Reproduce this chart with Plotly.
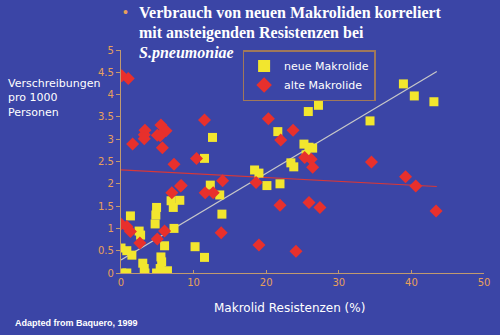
import plotly.graph_objects as go

# neue Makrolide (yellow squares)
neue_x = [0.1, 0.8, 0.0, 0.8, 1.5, 1.3, 2.5, 2.7, 3.0, 3.2, 3.3, 4.8, 4.7, 4.9, 5.5, 5.6,
          4.9, 5.4, 5.9, 6.4, 6.0, 6.9, 7.2, 8.1, 7.3, 10.2, 11.5, 11.5, 12.3, 13.6, 13.9,
          18.4, 19.0, 20.1, 21.9, 23.4, 23.8, 12.6, 21.6, 38.9, 40.4, 43.1, 34.3, 25.8,
          27.2, 25.2, 25.9, 26.4, 25.5]
neue_y = [0.0, 0.0, 0.56, 0.5, 0.4, 1.28, 0.94, 0.85, 0.22, 0.1, 0.0, 1.3, 1.1, 1.47, 0.36, 0.25,
          0.0, 0.1, 0.0, 0.05, 0.61, 1.62, 1.47, 1.63, 1.0, 0.59, 0.35, 2.57, 1.97, 1.75, 1.32,
          2.31, 2.24, 1.96, 2.0, 2.47, 2.38, 3.04, 3.17, 4.24, 3.97, 3.84, 3.41, 3.62,
          3.76, 2.89, 2.82, 2.8, 2.65]

# alte Makrolide (red diamonds)
alte_x = [0.1, 1.0, 1.6, 3.3, 3.2, 3.2, 5.5, 6.2, 5.0, 5.4, 5.7, 7.3, 10.4, 11.5, 8.3, 14.0,
          20.3, 22.0, 23.7, 18.6, 0.0, 0.8, 1.3, 2.6, 5.0, 6.0, 7.0, 8.2, 11.6, 12.7, 13.8,
          21.9, 19.0, 24.1, 25.9, 27.4, 34.5, 39.2, 40.6, 43.4, 25.3, 26.2, 26.4]
alte_y = [4.42, 4.36, 2.89, 3.2, 3.1, 3.01, 3.32, 3.19, 3.09, 3.08, 2.81, 2.44, 2.57, 3.43, 1.96, 2.07,
          3.46, 2.98, 3.2, 2.03, 1.1, 1.04, 0.93, 0.67, 0.76, 0.94, 1.8, 1.95, 1.8, 1.8, 0.9,
          1.52, 0.63, 0.49, 1.58, 1.47, 2.49, 2.16, 1.95, 1.39, 2.59, 2.55, 2.37]

# trend line endpoints (as drawn in the source)
trend_neue_x = [0.0, 43.5]
trend_neue_y = [0.29, 4.52]
trend_alte_x = [0.0, 43.5]
trend_alte_y = [2.31, 1.94]

x_ticks = [0, 10, 20, 30, 40, 50]
y_ticks = [0, 0.5, 1, 1.5, 2, 2.5, 3, 3.5, 4, 4.5, 5]

BG = "#3b45a6"
AXIS = "#c09a70"
TICKC = "#e8a05a"

fig = go.Figure()
fig.add_trace(go.Scatter(x=trend_neue_x, y=trend_neue_y, mode="lines",
                         line=dict(color="#c8c8c8", width=1.2), showlegend=False, hoverinfo="skip"))
fig.add_trace(go.Scatter(x=trend_alte_x, y=trend_alte_y, mode="lines",
                         line=dict(color="#d83838", width=1.2), showlegend=False, hoverinfo="skip"))
fig.add_trace(go.Scatter(x=neue_x, y=neue_y, mode="markers", name="neue Makrolide",
                         marker=dict(symbol="square", size=9, color="#f2e62e")))
fig.add_trace(go.Scatter(x=alte_x, y=alte_y, mode="markers", name="alte Makrolide",
                         marker=dict(symbol="diamond", size=10, color="#e8302c")))

fig.update_layout(
    width=500, height=335,
    margin=dict(l=121, r=10, t=50, b=62),
    paper_bgcolor=BG, plot_bgcolor=BG,
    font=dict(family="Liberation Sans, Arial", color="white"),
    showlegend=True,
    legend=dict(x=0.335, y=1.0, xanchor="left", yanchor="top",
                bgcolor=BG, bordercolor="#a0785a", borderwidth=1.5,
                font=dict(size=11, color="white", family="DejaVu Sans"),
                itemsizing="constant", tracegroupgap=2),
    xaxis=dict(range=[0, 50], tickvals=x_ticks, showgrid=False, zeroline=False,
               showline=True, linecolor=AXIS, linewidth=1.2,
               ticks="inside", ticklen=3, tickcolor=AXIS,
               tickfont=dict(size=10, color=TICKC, family="DejaVu Sans")),
    yaxis=dict(range=[0, 5], tickvals=y_ticks, showgrid=False, zeroline=False,
               showline=True, linecolor=AXIS, linewidth=1.2,
               ticks="outside", ticklen=4, tickcolor=AXIS,
               tickfont=dict(size=10, color=TICKC, family="DejaVu Sans")),
)

fig.add_annotation(xref="paper", yref="paper", x=0.0, y=1.17, xanchor="left", yanchor="middle",
                   text="•", showarrow=False, font=dict(size=14, color="#e8a05a"))
fig.add_annotation(xref="paper", yref="paper", x=0.045, y=1.17, xanchor="left", yanchor="middle",
                   text="<b>Verbrauch von neuen Makroliden korreliert</b>", showarrow=False,
                   font=dict(size=16, color="white", family="Liberation Serif"))
fig.add_annotation(xref="paper", yref="paper", x=0.045, y=1.076, xanchor="left", yanchor="middle",
                   text="<b>mit ansteigenden Resistenzen bei</b>", showarrow=False,
                   font=dict(size=16, color="white", family="Liberation Serif"))
fig.add_annotation(xref="paper", yref="paper", x=0.045, y=0.985, xanchor="left", yanchor="middle",
                   text="<b><i>S.pneumoniae</i></b>", showarrow=False,
                   font=dict(size=16, color="white", family="Liberation Serif"))
fig.add_annotation(xref="paper", yref="paper", x=-0.318, y=0.785, xanchor="left", yanchor="middle",
                   text="Verschreibungen<br>pro 1000<br>Personen", showarrow=False, align="left",
                   font=dict(size=11, color="white", family="DejaVu Sans"))
fig.add_annotation(xref="paper", yref="paper", x=0.463, y=-0.157, xanchor="center", yanchor="middle",
                   text="Makrolid Resistenzen (%)", showarrow=False,
                   font=dict(size=12, color="white", family="DejaVu Sans"))
fig.add_annotation(xref="paper", yref="paper", x=-0.298, y=-0.225, xanchor="left", yanchor="middle",
                   text="<b>Adapted from Baquero, 1999</b>", showarrow=False,
                   font=dict(size=9, color="white", family="Liberation Sans"))

fig.write_html("out.html")
